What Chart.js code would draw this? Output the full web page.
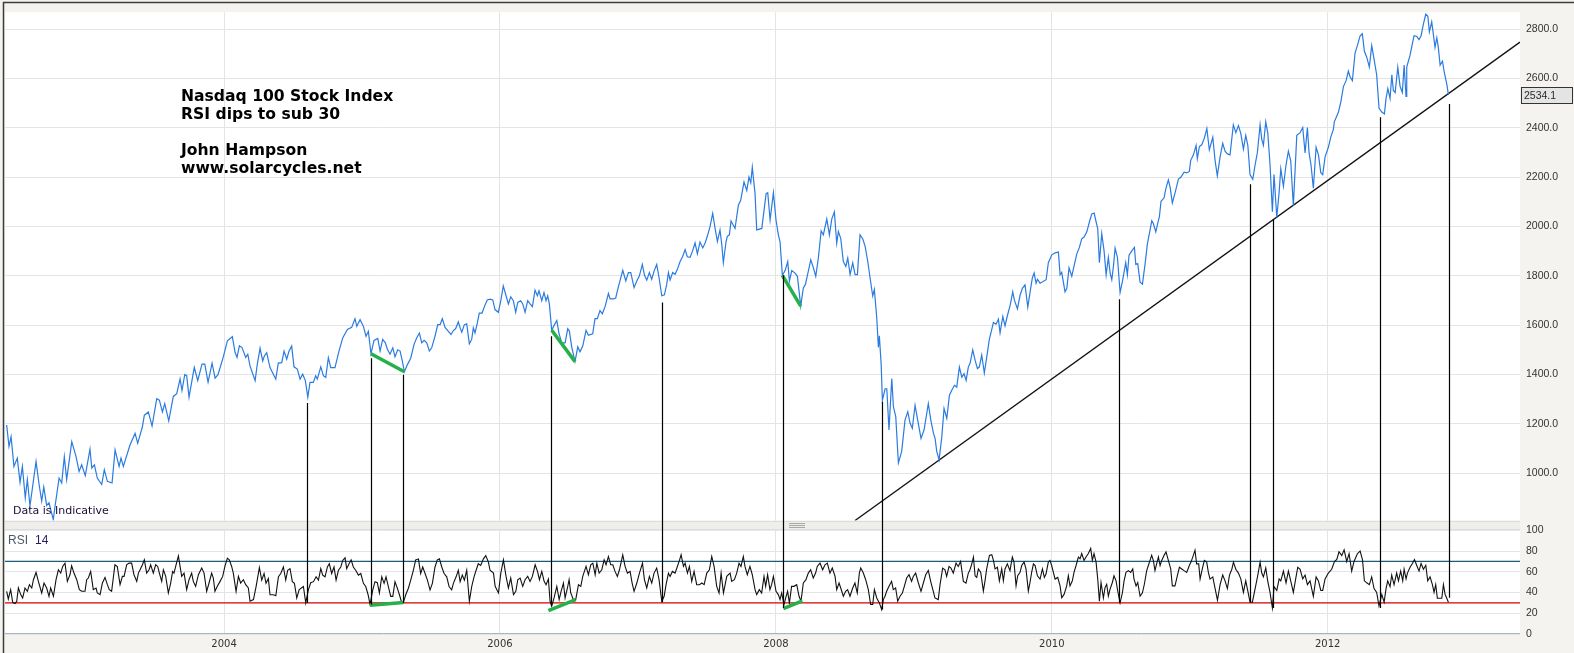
<!DOCTYPE html>
<html lang="en">
<head>
<meta charset="UTF-8">
<title>Nasdaq 100 Stock Index - RSI 14</title>
<script src="https://cdn.jsdelivr.net/npm/chart.js@4"></script>
<style>
  html, body { margin: 0; padding: 0; background: #f4f3ef; }
  #wrap { position: relative; width: 1574px; height: 653px; }
</style>
</head>
<body>
<div id="wrap"><canvas id="chart" width="1574" height="653"></canvas></div>
<script>
// weekly close, [decimal year, index level]
const priceSeries = [
  [2002.424,1195],[2002.441,1108],[2002.456,1148],[2002.477,1027],[2002.501,1061],[2002.521,963],[2002.538,1027],[2002.559,900],
  [2002.574,974],[2002.593,867],[2002.637,1047],[2002.661,947],[2002.678,887],[2002.693,944],[2002.714,869],[2002.731,880],
  [2002.762,812],[2002.775,867],[2002.804,980],[2002.823,960],[2002.842,1067],[2002.859,974],[2002.896,1128],[2002.927,1067],
  [2002.949,1007],[2002.968,1034],[2002.994,990],[2003.028,1097],[2003.041,1021],[2003.060,1034],[2003.081,980],[2003.113,954],
  [2003.132,1014],[2003.154,967],[2003.188,960],[2003.210,1094],[2003.239,1027],[2003.253,1061],[2003.270,1027],[2003.318,1114],
  [2003.355,1161],[2003.374,1121],[2003.408,1188],[2003.422,1235],[2003.451,1248],[2003.478,1191],[2003.512,1302],[2003.531,1296],
  [2003.553,1248],[2003.570,1282],[2003.599,1212],[2003.632,1311],[2003.657,1322],[2003.681,1382],[2003.695,1335],[2003.715,1399],
  [2003.729,1395],[2003.746,1308],[2003.784,1429],[2003.809,1375],[2003.840,1442],[2003.860,1442],[2003.884,1369],[2003.913,1446],
  [2003.935,1385],[2003.956,1399],[2003.995,1472],[2004.024,1536],[2004.060,1553],[2004.080,1489],[2004.094,1469],[2004.111,1516],
  [2004.130,1509],[2004.157,1469],[2004.172,1482],[2004.188,1435],
  [2004.225,1375],[2004.241,1442],[2004.261,1506],[2004.280,1455],[2004.292,1475],[2004.309,1488],[2004.333,1428],[2004.357,1401],
  [2004.375,1381],[2004.393,1446],[2004.418,1448],[2004.435,1495],[2004.454,1462],[2004.471,1495],[2004.490,1515],[2004.507,1431],
  [2004.531,1422],[2004.551,1381],[2004.570,1401],[2004.589,1375],[2004.607,1308],[2004.623,1368],[2004.647,1368],[2004.664,1395],
  [2004.676,1381],[2004.701,1431],[2004.720,1395],[2004.737,1388],[2004.756,1468],[2004.773,1428],[2004.804,1428],[2004.833,1495],
  [2004.860,1548],[2004.894,1582],[2004.925,1591],[2004.949,1626],[2004.962,1595],[2004.986,1622],[2005.010,1595],[2005.029,1555],
  [2005.046,1575],[2005.065,1484],[2005.087,1538],[2005.114,1546],[2005.131,1495],[2005.150,1542],[2005.169,1528],[2005.184,1502],
  [2005.203,1482],[2005.223,1508],[2005.239,1472],[2005.259,1500],[2005.276,1495],[2005.292,1455],[2005.307,1411],[2005.331,1442],
  [2005.353,1466],[2005.377,1522],[2005.396,1548],[2005.416,1568],[2005.433,1528],[2005.450,1538],[2005.469,1528],[2005.488,1495],
  [2005.505,1508],[2005.529,1555],[2005.549,1602],[2005.566,1602],[2005.582,1626],[2005.602,1591],[2005.626,1575],[2005.645,1562],
  [2005.662,1578],[2005.679,1586],[2005.698,1613],[2005.711,1589],[2005.723,1571],[2005.742,1602],[2005.759,1605],[2005.778,1524],
  [2005.795,1542],[2005.807,1589],[2005.819,1568],[2005.836,1609],[2005.850,1649],[2005.870,1649],[2005.892,1682],[2005.908,1702],
  [2005.928,1705],
  [2005.948,1702],[2005.964,1663],[2005.988,1652],[2006.006,1699],[2006.024,1759],[2006.044,1719],[2006.061,1686],[2006.078,1715],
  [2006.097,1699],[2006.114,1652],[2006.129,1692],[2006.150,1699],[2006.165,1686],[2006.182,1652],[2006.201,1699],[2006.218,1686],
  [2006.235,1675],[2006.254,1742],[2006.271,1719],[2006.283,1739],[2006.303,1699],[2006.319,1732],[2006.334,1699],[2006.346,1719],
  [2006.358,1686],[2006.375,1579],[2006.392,1599],[2006.412,1619],[2006.428,1565],[2006.448,1528],[2006.472,1528],[2006.491,1585],
  [2006.503,1576],[2006.520,1512],[2006.544,1452],[2006.564,1512],[2006.580,1492],[2006.600,1515],[2006.624,1579],[2006.641,1559],
  [2006.672,1565],[2006.689,1626],[2006.706,1626],[2006.725,1659],[2006.742,1646],[2006.762,1675],[2006.786,1728],[2006.798,1706],
  [2006.822,1706],[2006.839,1710],[2006.854,1746],[2006.890,1822],[2006.912,1779],[2006.931,1813],[2006.948,1813],[2006.972,1752],
  [2006.992,1779],[2007.010,1799],[2007.032,1846],[2007.047,1803],[2007.064,1782],[2007.083,1813],[2007.100,1786],[2007.117,1819],
  [2007.136,1846],[2007.153,1793],[2007.173,1719],[2007.192,1723],[2007.209,1766],[2007.221,1813],[2007.233,1783],[2007.252,1813],
  [2007.269,1806],[2007.286,1826],[2007.305,1857],[2007.325,1879],[2007.342,1906],[2007.358,1877],[2007.378,1875],[2007.395,1899],
  [2007.414,1933],[2007.431,1889],[2007.450,1937],[2007.470,1913],[2007.487,1933],[2007.503,1960],[2007.523,2000],[2007.542,2053],
  [2007.559,1993],[2007.576,1939],[2007.595,1986],[2007.608,1926],[2007.619,1853],[2007.639,1939],[2007.648,1960],[2007.663,1966],
  [2007.675,2022],[2007.704,1992],[2007.728,2086],[2007.745,2106],[2007.769,2180],[2007.789,2146],[2007.805,2200],[2007.818,2177],
  [2007.829,2240],[2007.849,2133],[2007.861,1986],[2007.898,1992],[2007.929,2133],[2007.941,2137],[2007.958,2026],[2007.982,2137],
  [2008.001,2026],[2008.018,1966],[2008.030,1939],[2008.047,1802],[2008.067,1821],[2008.086,1858],[2008.098,1778],[2008.115,1821],
  [2008.139,1811],[2008.156,1798],[2008.180,1677],[2008.199,1751],[2008.214,1765],[2008.235,1818],[2008.253,1865],[2008.272,1832],
  [2008.289,1798],[2008.308,1872],[2008.328,1982],[2008.344,1966],[2008.369,2030],[2008.388,1966],[2008.405,2030],[2008.424,2059],
  [2008.441,1932],[2008.453,1979],[2008.470,1952],[2008.489,1858],[2008.507,1838],[2008.521,1872],[2008.538,1805],[2008.557,1852],
  [2008.574,1805],[2008.591,1805],[2008.610,1966],[2008.630,1949],[2008.647,1919],[2008.666,1858],[2008.683,1791],[2008.702,1718],
  [2008.714,1744],[2008.731,1631],[2008.743,1510],[2008.750,1557],[2008.763,1443],[2008.772,1296],[2008.792,1342],[2008.804,1342],
  [2008.820,1175],[2008.840,1383],[2008.852,1269],[2008.869,1229],[2008.888,1041],[2008.912,1088],[2008.936,1215],[2008.956,1249],
  [2008.973,1202],[2008.989,1182],[2009.009,1275],[2009.028,1215],[2009.052,1141],[2009.074,1175],[2009.105,1282],[2009.123,1215],
  [2009.142,1162],[2009.154,1141],[2009.166,1088],[2009.183,1054],[2009.203,1148],[2009.219,1262],[2009.239,1222],[2009.258,1316],
  [2009.275,1336],[2009.294,1356],[2009.311,1349],[2009.330,1430],[2009.348,1389],[2009.364,1403],[2009.379,1376],[2009.395,1430],
  [2009.408,1446],
  [2009.427,1500],[2009.444,1458],[2009.461,1424],[2009.475,1431],[2009.492,1479],[2009.511,1406],[2009.529,1472],[2009.547,1541],
  [2009.577,1611],[2009.596,1604],[2009.613,1624],[2009.625,1569],[2009.645,1635],[2009.661,1597],[2009.678,1638],[2009.698,1680],
  [2009.717,1735],[2009.729,1701],[2009.751,1666],[2009.770,1721],[2009.787,1749],[2009.806,1763],[2009.826,1673],[2009.843,1735],
  [2009.859,1791],[2009.872,1811],[2009.886,1770],[2009.896,1786],[2009.915,1770],[2009.959,1784],[2009.975,1853],[2010.000,1885],
  [2010.024,1893],[2010.048,1896],[2010.060,1804],[2010.072,1814],[2010.096,1735],[2010.109,1749],[2010.125,1832],[2010.145,1798],
  [2010.164,1846],[2010.181,1888],[2010.200,1915],[2010.217,1950],[2010.234,1957],[2010.254,1978],[2010.273,2019],[2010.290,2051],
  [2010.307,2054],[2010.321,2019],[2010.333,1991],[2010.345,1853],[2010.362,1971],[2010.379,1901],[2010.394,1804],[2010.410,1874],
  [2010.423,1811],[2010.435,1784],[2010.447,1839],[2010.459,1912],[2010.476,1874],[2010.495,1732],[2010.512,1777],[2010.536,1853],
  [2010.548,1804],[2010.560,1883],[2010.580,1901],[2010.599,1915],[2010.609,1846],[2010.623,1849],[2010.640,1774],[2010.657,1766],
  [2010.676,1846],[2010.693,1929],[2010.712,1985],[2010.725,2023],[2010.736,2012],[2010.754,1978],[2010.768,2012],[2010.780,2040],
  [2010.792,2102],[2010.814,2116],[2010.826,2151],[2010.845,2189],[2010.858,2158],[2010.874,2095],[2010.894,2137],[2010.918,2192],
  [2010.935,2199],[2010.959,2220],[2010.979,2217],[2010.997,2223],[2011.007,2268],[2011.026,2289],[2011.046,2328],[2011.055,2275],
  [2011.070,2324],[2011.087,2331],[2011.106,2358],[2011.124,2397],[2011.142,2310],
  [2011.167,2361],[2011.184,2266],[2011.200,2205],[2011.220,2282],[2011.239,2337],[2011.256,2305],[2011.273,2294],[2011.292,2290],
  [2011.316,2412],[2011.334,2380],[2011.353,2409],[2011.370,2377],[2011.389,2313],[2011.406,2369],[2011.421,2329],[2011.437,2210],
  [2011.457,2191],[2011.474,2250],[2011.490,2298],[2011.510,2412],[2011.522,2353],[2011.534,2329],[2011.551,2424],[2011.566,2377],
  [2011.582,2250],[2011.599,2060],[2011.611,2210],[2011.631,2036],[2011.648,2139],[2011.660,2234],[2011.679,2163],[2011.698,2250],
  [2011.715,2305],[2011.732,2266],[2011.751,2084],[2011.776,2369],[2011.800,2380],[2011.819,2401],[2011.836,2298],[2011.853,2401],
  [2011.865,2298],[2011.879,2250],[2011.896,2155],[2011.916,2321],[2011.933,2290],[2011.950,2218],[2011.964,2210],[2011.981,2282],
  [2012.005,2321],[2012.022,2361],[2012.041,2393],[2012.048,2424],[2012.066,2448],[2012.078,2464],[2012.095,2504],[2012.114,2567],
  [2012.133,2591],[2012.150,2630],[2012.162,2607],[2012.179,2591],[2012.198,2702],[2012.215,2733],[2012.235,2773],[2012.251,2781],
  [2012.266,2710],[2012.283,2686],[2012.302,2646],[2012.319,2733],[2012.336,2678],[2012.355,2615],[2012.372,2480],[2012.392,2464],
  [2012.411,2456],[2012.423,2519],[2012.436,2559],[2012.452,2519],[2012.465,2615],[2012.476,2551],[2012.489,2543],[2012.508,2646],
  [2012.525,2567],[2012.541,2543],[2012.554,2654],[2012.568,2527],[2012.573,2646],[2012.597,2694],[2012.614,2741],[2012.626,2773],
  [2012.646,2770],[2012.662,2757],[2012.677,2773],[2012.694,2821],[2012.711,2860],[2012.726,2852],[2012.737,2789],[2012.754,2829],
  [2012.771,2757],[2012.778,2726],[2012.791,2765],[2012.802,2726],[2012.815,2654],[2012.832,2670],[2012.846,2622],[2012.864,2575],
  [2012.875,2534.1]
];

// RSI(14), [decimal year, value]
const rsiSeries = [
  [2002.424,41.2],[2002.436,33.8],[2002.453,42.8],[2002.468,30.6],[2002.485,29.4],[2002.497,31.6],[2002.509,44.4],[2002.526,38],
  [2002.540,34.8],[2002.557,44.4],[2002.574,41.2],[2002.589,47.6],[2002.606,44.4],[2002.618,52.4],[2002.637,59.4],[2002.654,50.8],
  [2002.678,39.6],[2002.695,49.2],[2002.714,44.4],[2002.731,36.4],[2002.743,44.4],[2002.763,36.4],[2002.782,52.4],[2002.799,62],
  [2002.816,58.8],[2002.830,65.2],[2002.847,68.4],[2002.864,50.8],[2002.883,57.2],[2002.895,65.8],[2002.912,58.8],[2002.932,52.4],
  [2002.951,42.8],[2002.968,41.2],[2002.992,41.2],[2003.004,52.4],[2003.016,54],[2003.033,60.4],[2003.052,42.8],[2003.072,44.4],
  [2003.081,39.6],[2003.101,38],[2003.118,49.2],[2003.137,54.6],[2003.154,47.6],[2003.168,42.8],[2003.185,41.2],[2003.209,66.8],
  [2003.226,65.2],[2003.246,47.6],[2003.263,55.6],[2003.275,55.6],[2003.294,66.8],[2003.311,68.4],[2003.330,68.4],[2003.347,57.2],
  [2003.367,50.8],[2003.379,58.8],[2003.391,62],[2003.408,66.8],[2003.422,71.6],[2003.439,58.8],[2003.456,62],[2003.468,66.8],
  [2003.487,58.8],[2003.504,66.8],[2003.519,65.2],[2003.531,58.8],[2003.548,50.8],[2003.560,62],[2003.577,55.6],[2003.596,39.6],
  [2003.613,49.2],[2003.627,60.4],[2003.637,58.8],[2003.652,66.8],[2003.669,75.4],[2003.681,65.2],[2003.693,55.6],[2003.710,58.8],
  [2003.729,42.8],[2003.746,52.4],[2003.765,58.8],[2003.777,50.8],[2003.794,46],[2003.814,57.2],[2003.838,63.6],[2003.855,58.8],
  [2003.874,41.2],[2003.891,49.2],[2003.910,58.8],[2003.922,54],[2003.934,41.2],[2003.951,46],[2003.971,50.8],[2003.990,55.6],
  [2004.007,65.8],[2004.024,73.2],[2004.038,71.6],[2004.055,65.2],[2004.067,58.8],[2004.087,41.2],[2004.104,55.6],[2004.120,49.2],
  [2004.140,52.4],[2004.157,47.6],[2004.176,44.4],[2004.188,31.6],
  [2004.213,33.2],[2004.232,45.8],[2004.256,64],[2004.273,52],[2004.290,58.4],[2004.304,48.9],[2004.321,53.6],[2004.333,37.9],
  [2004.358,37.9],[2004.375,36.9],[2004.394,55.2],[2004.411,58.4],[2004.430,64.7],[2004.447,52],[2004.461,61.5],[2004.478,63.1],
  [2004.495,50.5],[2004.510,48.9],[2004.527,34.7],[2004.544,42.6],[2004.558,44.2],[2004.575,45.8],[2004.592,30],[2004.611,42.6],
  [2004.628,49.5],[2004.648,50.5],[2004.667,55.2],[2004.684,52],[2004.701,63.1],[2004.715,56.8],[2004.732,55.2],[2004.749,64.7],
  [2004.763,67.8],[2004.780,58.4],[2004.797,64.7],[2004.812,52],[2004.829,61.5],[2004.846,64.7],[2004.860,71],[2004.877,73.5],
  [2004.889,63.1],[2004.906,67.8],[2004.921,71.6],[2004.937,64.7],[2004.954,61.5],[2004.974,56.8],[2004.991,58.4],[2005.010,48.9],
  [2005.027,45.8],[2005.044,37.9],[2005.058,28.5],[2005.078,42.6],[2005.094,50.5],[2005.111,49.5],[2005.126,39.5],[2005.143,55.2],
  [2005.160,48.9],[2005.174,55.2],[2005.191,45.8],[2005.208,36.3],[2005.223,36.3],[2005.239,50.5],[2005.256,44.2],[2005.271,37.9],
  [2005.285,31.6],[2005.300,30.6],[2005.317,37.9],[2005.336,44.2],[2005.353,52],[2005.372,61.5],[2005.389,71.6],[2005.409,72.5],
  [2005.425,58.4],[2005.440,64.7],[2005.457,58.4],[2005.474,52],[2005.493,42.6],[2005.510,48.9],[2005.529,64.7],[2005.546,71.6],
  [2005.561,72.5],[2005.578,64.7],[2005.595,58.4],[2005.614,55.2],[2005.631,45.8],[2005.650,42.6],[2005.662,48.9],[2005.682,55.2],
  [2005.698,61.5],[2005.711,50.5],[2005.727,56.8],[2005.742,52],[2005.759,61.5],[2005.778,31.6],[2005.795,45.8],[2005.812,55.2],
  [2005.827,61.5],[2005.843,67.8],[2005.860,66.2],[2005.880,72.5],[2005.897,75.7],[2005.916,69.4],[2005.928,61.5],
  [2005.953,58.8],[2005.965,46],[2005.989,39.6],[2006.006,58.8],[2006.025,71.6],[2006.044,55.6],[2006.061,44.4],[2006.078,54],
  [2006.098,38],[2006.115,41.2],[2006.129,52.4],[2006.146,54],[2006.165,46],[2006.182,52.4],[2006.201,55.6],[2006.218,50.8],
  [2006.235,55.6],[2006.255,66.8],[2006.272,60.4],[2006.286,52.4],[2006.303,60.4],[2006.320,50.8],[2006.334,47.6],[2006.351,53],
  [2006.363,31.6],[2006.375,26.8],[2006.392,34.8],[2006.412,46],[2006.429,33.2],[2006.443,41.2],[2006.460,49.2],[2006.472,34.8],
  [2006.489,44.4],[2006.501,52.4],[2006.513,39.6],[2006.532,33.2],[2006.549,33.2],[2006.569,47.6],[2006.586,46],[2006.600,55.6],
  [2006.624,65.2],[2006.641,57.2],[2006.658,66.8],[2006.673,68.4],[2006.690,57.2],[2006.702,68.4],[2006.719,58.8],[2006.738,62],
  [2006.755,71.6],[2006.769,66.8],[2006.786,74.8],[2006.803,66.8],[2006.818,66.8],[2006.834,60.4],[2006.851,55.6],[2006.866,62],
  [2006.890,76.4],[2006.907,65.2],[2006.924,58.8],[2006.943,60.4],[2006.958,49.2],[2006.972,41.2],[2006.992,49.2],[2007.011,58.8],
  [2007.033,68.4],[2007.047,52.4],[2007.064,44.4],[2007.083,55.6],[2007.100,49.2],[2007.117,58.8],[2007.136,63.6],[2007.153,52.4],
  [2007.173,31.6],[2007.190,36.4],[2007.204,47.6],[2007.221,58.8],[2007.233,55.6],[2007.250,60.4],[2007.269,58.8],[2007.286,65.2],
  [2007.301,71],[2007.313,76.4],[2007.330,65.2],[2007.342,68.4],[2007.359,58.8],[2007.373,65.2],[2007.390,50.8],[2007.407,60.4],
  [2007.426,47.6],[2007.446,47.6],[2007.463,49.2],[2007.480,47.6],[2007.499,58.8],[2007.518,62],[2007.535,74.8],[2007.552,65.2],
  [2007.571,46],[2007.588,39.6],[2007.603,58.8],[2007.620,39.6],[2007.644,55.6],[2007.668,58.8],
  [2007.680,50.8],[2007.699,52.4],[2007.716,58.8],[2007.733,68.4],[2007.747,65.2],[2007.764,74.8],[2007.776,65.2],[2007.793,57.2],
  [2007.812,65.2],[2007.829,57.2],[2007.849,42.8],[2007.861,38],[2007.880,42.8],[2007.897,39.6],[2007.914,55.6],[2007.926,46],
  [2007.940,57.2],[2007.957,42.8],[2007.969,47.6],[2007.982,55.6],[2008.001,41.2],[2008.018,38],[2008.030,33.2],[2008.042,39.6],
  [2008.059,28.4],[2008.071,34.8],[2008.085,41.2],[2008.098,30],[2008.114,46],[2008.131,46],[2008.151,47.6],[2008.168,36.4],
  [2008.182,31.6],[2008.199,49.2],[2008.218,52.4],[2008.235,58.8],[2008.252,62],[2008.271,54],[2008.288,58.8],[2008.300,65.2],
  [2008.320,68.4],[2008.339,62],[2008.356,66.8],[2008.373,68.4],[2008.392,58.8],[2008.409,63.6],[2008.429,55.6],[2008.441,42.8],
  [2008.458,49.2],[2008.470,44.4],[2008.489,36.4],[2008.506,41.2],[2008.520,42.8],[2008.537,36.4],[2008.557,44.4],[2008.573,49.2],
  [2008.590,39.6],[2008.605,58.8],[2008.615,63.6],[2008.634,58.8],[2008.651,52.4],[2008.670,42.8],[2008.687,28.4],[2008.702,28.4],
  [2008.714,42.8],[2008.731,34.8],[2008.750,30],[2008.767,23.6],[2008.779,33.2],[2008.791,36.4],[2008.803,41.2],[2008.820,46],
  [2008.839,50.8],[2008.851,42.8],[2008.868,44.4],[2008.883,31.6],[2008.900,36.4],[2008.917,39.6],[2008.931,46],[2008.948,54],
  [2008.965,57.2],[2008.984,50.8],[2008.996,55.6],[2009.013,58.8],[2009.033,49.2],[2009.052,41.2],[2009.069,49.2],[2009.086,57.2],
  [2009.105,61.4],[2009.122,50.8],[2009.141,41.2],[2009.153,34.8],[2009.177,33.2],[2009.190,47.6],[2009.209,63.6],[2009.226,62],
  [2009.238,55.6],[2009.255,65.2],[2009.269,63.6],[2009.286,58.8],[2009.306,68.4],[2009.322,65.2],[2009.339,70],[2009.359,50.8],
  [2009.378,49.2],[2009.395,58.8],[2009.407,62],
  [2009.420,67.7],[2009.432,74.3],[2009.444,56.2],[2009.456,54.6],[2009.468,62.8],[2009.485,59.5],[2009.504,41.5],[2009.516,51.3],
  [2009.528,62.8],[2009.548,75.9],[2009.565,76.6],[2009.577,71],[2009.589,62.8],[2009.606,64.4],[2009.620,51.3],[2009.637,62.8],
  [2009.649,51.3],[2009.661,62.8],[2009.678,67.7],[2009.697,61.2],[2009.714,74.3],[2009.726,69.4],[2009.741,46.4],[2009.753,56.2],
  [2009.770,59.5],[2009.782,66.1],[2009.799,69.4],[2009.813,62.8],[2009.830,41.5],[2009.842,49.7],[2009.854,59.5],[2009.867,67.7],
  [2009.879,66.1],[2009.896,56.2],[2009.915,53],[2009.932,62.8],[2009.946,54.6],[2009.958,57.9],[2009.975,69.4],[2009.987,71],
  [2009.999,66.1],[2010.024,53],[2010.043,54.6],[2010.060,46.4],[2010.072,34.9],[2010.089,38.2],[2010.108,46.4],[2010.120,56.2],
  [2010.132,46.4],[2010.149,51.3],[2010.161,59.5],[2010.176,66.1],[2010.193,74.3],[2010.205,72.6],[2010.217,77.6],[2010.234,71],
  [2010.248,74.3],[2010.265,77.6],[2010.282,82.5],[2010.294,71],[2010.306,77.6],[2010.321,69.4],[2010.333,53],[2010.345,31.6],
  [2010.357,49.7],[2010.374,34.9],[2010.386,44.8],[2010.398,48],[2010.410,36.6],[2010.422,43.1],[2010.439,49.7],[2010.451,56.2],
  [2010.466,51.3],[2010.478,41.5],[2010.495,30],[2010.512,39.8],[2010.524,51.3],[2010.538,59.5],[2010.555,61.2],[2010.572,59.5],
  [2010.587,62.8],[2010.596,53],[2010.611,46.4],[2010.623,49.7],[2010.640,36.6],[2010.657,39.8],[2010.671,48],[2010.688,61.2],
  [2010.700,66.1],[2010.712,71],[2010.724,75.9],[2010.736,71],[2010.748,61.2],[2010.760,67.7],[2010.773,74.3],[2010.785,66.1],
  [2010.797,71],[2010.814,75.9],[2010.828,79.2],[2010.845,71],[2010.862,62.8],[2010.874,46.4],[2010.893,46.4],[2010.910,56.2],
  [2010.925,64.4],[2010.942,62.8],[2010.959,61.2],[2010.978,59.5],[2010.997,66.1],[2011.009,69.4],[2011.026,75.9],[2011.038,80.8],
  [2011.050,67.7],[2011.065,67.7],[2011.075,53],[2011.091,62.8],[2011.106,71],[2011.123,69.4],[2011.135,59.5],[2011.147,53],
  [2011.167,55.1],[2011.184,43.8],[2011.201,32.6],[2011.220,47.6],[2011.239,56.9],[2011.256,51.3],[2011.273,43.8],[2011.288,56.9],
  [2011.305,62.5],[2011.317,69.3],[2011.334,62.5],[2011.353,58.8],[2011.370,53.2],[2011.389,40.1],[2011.406,51.3],[2011.420,42],
  [2011.437,30.7],[2011.454,30.7],[2011.474,43.8],[2011.491,55.1],[2011.510,69.3],[2011.522,58.8],[2011.534,55.1],[2011.551,63.7],
  [2011.565,51.3],[2011.582,40.1],[2011.599,25.1],[2011.611,45.7],[2011.631,42],[2011.648,53.2],[2011.660,51.3],[2011.679,60.7],
  [2011.698,49.4],[2011.715,60.7],[2011.732,51.3],[2011.751,40.1],[2011.768,53.2],[2011.783,64.4],[2011.800,62.5],[2011.819,53.2],
  [2011.836,56.9],[2011.853,47.6],[2011.872,51.3],[2011.896,36.4],[2011.916,55.1],[2011.933,51.3],[2011.950,42],[2011.964,42],
  [2011.981,53.2],[2012.005,58.8],[2012.029,62.5],[2012.049,70],[2012.066,71.9],[2012.082,79.4],[2012.102,75.6],[2012.119,81.2],
  [2012.138,70],[2012.155,77.5],[2012.174,60.7],[2012.191,70],[2012.215,77.5],[2012.235,80.1],[2012.252,71.9],[2012.266,51.3],
  [2012.283,49.4],[2012.302,47.6],[2012.319,55.1],[2012.336,43.8],[2012.355,40.1],[2012.372,27],[2012.392,38.2],[2012.409,30.7],
  [2012.423,43.8],[2012.435,51.3],[2012.452,45.7],[2012.464,56.9],[2012.481,47.6],[2012.500,58.8],[2012.513,51.3],[2012.529,60.7],
  [2012.544,51.3],[2012.554,62.5],[2012.568,53.2],[2012.578,58.8],[2012.597,64.4],[2012.614,68.1],[2012.629,71.9],[2012.645,66.3],
  [2012.662,60.7],[2012.677,68.1],[2012.694,62.5],[2012.711,66.3],[2012.725,51.3],[2012.742,55.1],[2012.759,47.6],[2012.771,40.1],
  [2012.783,47.6],[2012.795,34.5],[2012.810,34.5],[2012.827,34.5],[2012.839,47.6],[2012.851,38.2],[2012.863,34.5],[2012.875,30.7]
];

const xMin = 2002.412;
const xMax = 2013.394;
const yearTicks = [2004, 2006, 2008, 2010, 2012];
const priceTicks = [1000, 1200, 1400, 1600, 1800, 2000, 2200, 2400, 2600, 2800];
const rsiTicks = [0, 20, 40, 60, 80, 100];
const rsiLevels = [70, 30];
const lastPrice = 2534.1;

// support line drawn on the price pane
const trendLine = [[2008.574, 808], [2013.394, 2747]];

// green divergence segments
const greenPrice = [
  [[2005.065, 1484], [2005.307, 1411]],
  [[2006.375, 1579], [2006.544, 1452]],
  [[2008.047, 1802], [2008.180, 1677]]
];
const greenRsi = [
  [[2005.058, 27.8], [2005.300, 30.3]],
  [[2006.351, 22.6], [2006.549, 33.2]],
  [[2008.054, 24.6], [2008.192, 31.9]]
];

// vertical markers: date, price where the line starts, RSI where it ends
const markDates  = [2004.599, 2005.065, 2005.300, 2006.373, 2007.178, 2008.054, 2008.767, 2010.490, 2011.440, 2011.607, 2012.382, 2012.877];
const markPrices = [1284, 1466, 1399, 1555, 1692, 1802, 1289, 1705, 2171, 2028, 2443, 2496];
const markRsi    = [30, 28.4, 30, 26.8, 30.6, 25.2, 23.6, 30, 30.7, 25, 25, 35];

const noteLines = ['Nasdaq 100 Stock Index', 'RSI dips to sub 30', '', 'John Hampson', 'www.solarcycles.net'];

const toPoints = pairs => pairs.map(p => ({ x: p[0], y: p[1] }));

const datasets = [];
greenPrice.forEach(seg => datasets.push({ data: toPoints(seg), yAxisID: 'yPrice', borderColor: '#25b04a', borderWidth: 3.5, order: 0 }));
greenRsi.forEach(seg => datasets.push({ data: toPoints(seg), yAxisID: 'yRsi', borderColor: '#25b04a', borderWidth: 3.5, order: 0 }));
datasets.push({ data: toPoints(priceSeries), yAxisID: 'yPrice', borderColor: '#2a7be0', borderWidth: 1.2, order: 1 });
datasets.push({ data: toPoints(rsiSeries), yAxisID: 'yRsi', borderColor: '#111111', borderWidth: 1.1, order: 1 });
datasets.push({ data: toPoints(trendLine), yAxisID: 'yPrice', borderColor: '#111111', borderWidth: 1.3, order: 2 });
rsiLevels.forEach((lvl, i) => datasets.push({
  data: [{ x: xMin, y: lvl }, { x: xMax, y: lvl }], yAxisID: 'yRsi',
  borderColor: i === 0 ? '#1d5b7d' : '#d40000', borderWidth: 1.2, order: 3
}));

const paneDecor = {
  id: 'paneDecor',
  beforeDraw(chart) {
    const { ctx, chartArea: a } = chart;
    ctx.save();
    ctx.fillStyle = '#f4f3ef';
    ctx.fillRect(0, 0, chart.width, chart.height);
    ctx.fillStyle = '#ffffff';
    ctx.fillRect(a.left, a.top, a.right - a.left, a.bottom - a.top);
    ctx.restore();
  },
  beforeDatasetsDraw(chart) {
    const { ctx, chartArea: a } = chart;
    const g = chart.scales.yGap;
    ctx.save();
    // strip between the two panes
    ctx.fillStyle = '#efeeea';
    ctx.fillRect(a.left, g.top, a.right - a.left, g.bottom - g.top);
    ctx.strokeStyle = '#dcdcdc';
    ctx.lineWidth = 1;
    ctx.beginPath();
    ctx.moveTo(a.left, Math.round(g.top) + 0.5); ctx.lineTo(a.right, Math.round(g.top) + 0.5);
    ctx.moveTo(a.left, Math.round(g.bottom) - 0.5); ctx.lineTo(a.right, Math.round(g.bottom) - 0.5);
    ctx.stroke();
    // drag handle
    ctx.strokeStyle = '#a8a8a8';
    const hx = 789, hy = Math.round((g.top + g.bottom) / 2);
    ctx.beginPath();
    for (let k = -1; k <= 1; k++) {
      ctx.moveTo(hx, hy + k * 2 + 0.5); ctx.lineTo(hx + 16, hy + k * 2 + 0.5);
    }
    ctx.stroke();
    // rsi pane bottom border
    ctx.strokeStyle = '#a9b5c2';
    ctx.beginPath();
    ctx.moveTo(a.left, Math.round(a.bottom) - 0.5); ctx.lineTo(a.right, Math.round(a.bottom) - 0.5);
    ctx.stroke();
    // outer frame
    ctx.strokeStyle = '#3c3c3c';
    ctx.lineWidth = 1.5;
    ctx.beginPath();
    ctx.moveTo(3.5, chart.height); ctx.lineTo(3.5, 2.5); ctx.lineTo(chart.width, 2.5);
    ctx.stroke();
    ctx.restore();
  },
  afterDatasetsDraw(chart) {
    const { ctx } = chart;
    const x = chart.scales.x, yp = chart.scales.yPrice, yr = chart.scales.yRsi;
    ctx.save();
    ctx.strokeStyle = '#000000';
    ctx.lineWidth = 1.2;
    ctx.beginPath();
    markDates.forEach((d, i) => {
      const px = Math.round(x.getPixelForValue(d)) + 0.5;
      ctx.moveTo(px, yp.getPixelForValue(markPrices[i]));
      ctx.lineTo(px, yr.getPixelForValue(markRsi[i]));
    });
    ctx.stroke();

    ctx.fillStyle = '#000000';
    ctx.font = 'bold 15.6px "DejaVu Sans"';
    noteLines.forEach((t, i) => { if (t) ctx.fillText(t, 181, 101 + i * 18); });

    ctx.font = '11px "DejaVu Sans"';
    ctx.fillStyle = '#1c0c32';
    ctx.fillText('Data is Indicative', 13, 514);

    ctx.font = '12px "Liberation Sans"';
    ctx.fillStyle = '#4d5a66';
    ctx.fillText('RSI', 8, 544);
    ctx.fillStyle = '#2b1a60';
    ctx.fillText('14', 35, 544);
    ctx.restore();
  },
  afterDraw(chart) {
    const { ctx, chartArea: a } = chart;
    const yp = chart.scales.yPrice;
    const cy = Math.round(yp.getPixelForValue(lastPrice));
    ctx.save();
    ctx.fillStyle = '#e4e4e4';
    ctx.fillRect(a.right + 1, cy - 8, chart.width - a.right - 2, 17);
    ctx.strokeStyle = '#333333';
    ctx.lineWidth = 1;
    ctx.strokeRect(a.right + 1.5, cy - 7.5, chart.width - a.right - 3, 16);
    ctx.fillStyle = '#2a2a2a';
    ctx.font = '10.5px "Liberation Sans"';
    ctx.textBaseline = 'middle';
    ctx.fillText(lastPrice.toFixed(1), a.right + 4, cy + 1);
    ctx.restore();
  }
};

const rightAxis = (extra) => Object.assign({
  position: 'right',
  stack: 'panes',
  grid: { color: '#e4e4e4', drawTicks: false },
  border: { display: false },
  ticks: { font: { family: 'Liberation Sans', size: 10.5 }, color: '#333333', padding: 6, autoSkip: false },
  afterFit: s => { s.width = 54; }
}, extra);

new Chart(document.getElementById('chart'), {
  type: 'line',
  data: { datasets },
  options: {
    responsive: false,
    animation: false,
    layout: { padding: { left: 5, top: 4, right: 0, bottom: 0 } },
    elements: { point: { radius: 0 }, line: { tension: 0, fill: false } },
    plugins: { legend: { display: false }, tooltip: { enabled: false } },
    scales: {
      x: {
        type: 'linear', min: xMin, max: xMax, position: 'bottom',
        afterBuildTicks: s => { s.ticks = yearTicks.map(v => ({ value: v })); },
        ticks: { font: { family: 'DejaVu Sans', size: 10 }, color: '#333333', padding: 4, maxRotation: 0, autoSkip: false, callback: v => String(v) },
        grid: { color: '#e4e4e4', drawTicks: false },
        border: { display: false },
        afterFit: s => { s.height = 19; }
      },
      // right-hand stacked boxes: first declared ends up on top here
      yPrice: rightAxis({
        stackWeight: 515, min: 808, max: 2868,
        afterBuildTicks: s => { s.ticks = priceTicks.map(v => ({ value: v })); },
        ticks: { font: { family: 'Liberation Sans', size: 10.5 }, color: '#333333', padding: 6, autoSkip: false, callback: v => v.toFixed(1) }
      }),
      yGap: rightAxis({
        stackWeight: 10, min: 0, max: 1,
        grid: { display: false }, ticks: { display: false }
      }),
      yRsi: rightAxis({
        stackWeight: 105, min: 0, max: 100,
        afterBuildTicks: s => { s.ticks = rsiTicks.map(v => ({ value: v })); }
      })
    }
  },
  plugins: [paneDecor]
});
</script>
</body>
</html>
